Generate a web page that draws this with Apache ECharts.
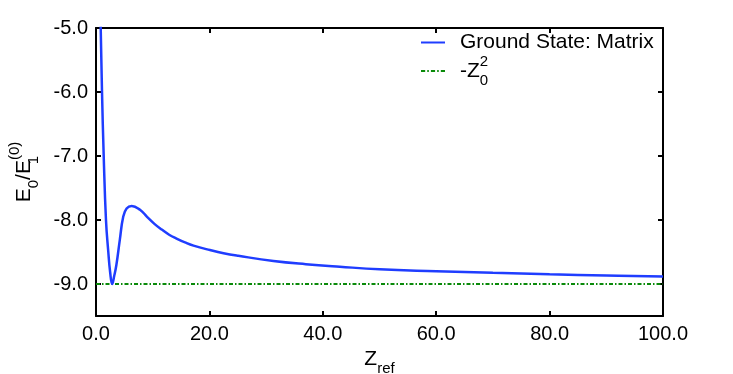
<!DOCTYPE html>
<html>
<head>
<meta charset="utf-8">
<script src="https://cdn.jsdelivr.net/npm/echarts@6/dist/echarts.min.js"></script>
<style>
  html, body { margin: 0; padding: 0; background: #fff; }
  #chart { width: 733px; height: 374px; }
</style>
</head>
<body>
<div id="chart"></div>
<script>
// Z_ref values and ground-state energy
const zRef = [0.7, 0.83, 1.06, 1.36, 1.76, 2.17, 2.5, 2.85, 3.2, 3.6, 4.2, 4.8, 5.4, 6.3,
  7.76, 9.0, 10.3, 11.6, 12.9, 14.2, 15.7, 17.2, 20.1, 22.5, 25.1, 31.3, 37, 43, 50, 60, 70, 80, 90, 100];
const energy = [-4.6, -5.0, -6.0, -7.0, -8.0, -8.5, -8.82, -9.0, -8.88, -8.7, -8.31, -7.95, -7.82, -7.78,
  -7.84, -7.95, -8.06, -8.15, -8.23, -8.29, -8.35, -8.40, -8.47, -8.52, -8.56, -8.64, -8.69, -8.73, -8.77, -8.80, -8.826, -8.848, -8.867, -8.884];
const refX = [0, 100];
const refY = [-9, -9];
const xTicks = [0, 20, 40, 60, 80, 100];
const yTicks = [-9, -8, -7, -6, -5];

const blue = '#1f3dff';
const green = '#0a8a0a';
const font = 'Liberation Sans, Arial, sans-serif';

const rich = {
  b: { fontSize: 21, fontFamily: font, color: '#000', lineHeight: 34 },
  sub: { fontSize: 15, fontFamily: font, color: '#000', verticalAlign: 'bottom', lineHeight: 34 },
  subz: { fontSize: 15, fontFamily: font, color: '#000', verticalAlign: 'bottom', lineHeight: 34, width: 0 },
  sup: { fontSize: 15, fontFamily: font, color: '#000', verticalAlign: 'top', lineHeight: 34 }
};

const chart = echarts.init(document.getElementById('chart'), null, { renderer: 'canvas' });

const axisLine = { show: true, onZero: false, lineStyle: { color: '#000', width: 2 } };
const tickStyle = { show: true, inside: true, length: 5, lineStyle: { color: '#000', width: 2 } };
const xTick = Object.assign({}, tickStyle, { customValues: xTicks.slice(1, -1) });
const yTick = Object.assign({}, tickStyle, { customValues: yTicks.slice(0, -1) });

chart.setOption({
  animation: false,
  grid: { left: 96, right: 70, top: 28, bottom: 58, outerBoundsMode: 'none', containLabel: false },
  legend: {
    orient: 'vertical',
    left: 416,
    top: 27,
    itemGap: 1,
    itemWidth: 24,
    itemHeight: 14,
    data: [
      { name: 'Ground State: Matrix', icon: 'path://M0,6 L24,6 L24,8 L0,8 Z' },
      { name: '-Z0^2', icon: 'path://M0,6 L4,6 L4,8 L0,8 Z M6,6 L7.5,6 L7.5,8 L6,8 Z M9.5,6 L13.5,6 L13.5,8 L9.5,8 Z M15.5,6 L17,6 L17,8 L15.5,8 Z M19,6 L23,6 L23,8 L19,8 Z' }
    ],
    formatter: function (name) {
      if (name === '-Z0^2') return '{b|-Z}{subz|0}{sup|2}';
      return '{b|' + name + '}';
    },
    textStyle: { rich: rich, padding: [0, 0, 0, 10] }
  },
  xAxis: [{
    type: 'value', min: 0, max: 100, interval: 20,
    name: '{b|Z}{sub|ref}', nameLocation: 'middle', nameGap: 17,
    nameTextStyle: { rich: rich },
    axisLine: axisLine, axisTick: xTick, splitLine: { show: false },
    axisLabel: {
      color: '#000', fontSize: 20, fontFamily: font, margin: 8,
      customValues: xTicks,
      formatter: v => v.toFixed(1)
    }
  }, {
    type: 'value', min: 0, max: 100, interval: 20, position: 'top',
    axisLine: axisLine, axisTick: xTick, splitLine: { show: false }, axisLabel: { show: false }
  }],
  yAxis: [{
    type: 'value', min: -9.5, max: -5, interval: 0.5,
    name: '{b|E}{sub|0}{b|/E}{subz|1}{sup|(0)}', nameLocation: 'middle', nameGap: 55, nameRotate: 90,
    nameTextStyle: { rich: rich },
    axisLine: axisLine, splitLine: { show: false },
    axisTick: yTick,
    axisLabel: {
      color: '#000', fontSize: 20, fontFamily: font, margin: 8,
      customValues: yTicks,
      formatter: v => v.toFixed(1)
    }
  }, {
    type: 'value', min: -9.5, max: -5, interval: 0.5, position: 'right',
    axisLine: axisLine, splitLine: { show: false }, axisLabel: { show: false },
    axisTick: yTick
  }],
  series: [{
    name: 'Ground State: Matrix',
    type: 'line',
    showSymbol: false,
    smooth: 0.45,
    clip: true,
    color: blue,
    lineStyle: { color: blue, width: 2.5 },
    data: zRef.map((z, i) => [z, energy[i]]),
    z: 3
  }, {
    name: '-Z0^2',
    type: 'line',
    showSymbol: false,
    color: green,
    lineStyle: { color: green, width: 2, type: [4, 2, 1.5, 2] },
    data: refX.map((z, i) => [z, refY[i]]),
    z: 2
  }]
});
</script>
</body>
</html>
